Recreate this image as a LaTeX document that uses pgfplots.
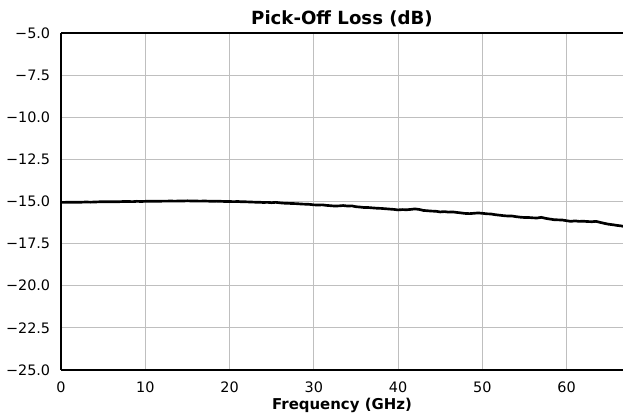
\documentclass[border=0pt]{standalone}
\usepackage{pgfplots}
\pgfplotsset{compat=1.18}
\usepackage{fontspec}
\setmainfont{DejaVu Sans}

\pgfplotstableread{
f loss
0 -15.05
0.5 -15.05
1 -15.04
1.5 -15.05
2 -15.04
2.5 -15.04
3 -15.03
3.5 -15.04
4 -15.03
4.5 -15.02
5 -15.02
5.5 -15.02
6 -15.01
6.5 -15.02
7 -15.01
7.5 -15.00
8 -15.00
8.5 -15.01
9 -14.99
9.5 -15.00
10 -14.99
10.5 -14.99
11 -14.98
11.5 -14.99
12 -14.98
12.5 -14.98
13 -14.97
13.5 -14.98
14 -14.97
14.5 -14.97
15 -14.96
15.5 -14.97
16 -14.97
16.5 -14.98
17 -14.97
17.5 -14.98
18 -14.99
18.5 -14.98
19 -14.99
19.5 -15.00
20 -15.00
20.5 -15.01
21 -15.00
21.5 -15.02
22 -15.02
22.5 -15.03
23 -15.04
23.5 -15.04
24 -15.06
24.5 -15.05
25 -15.07
25.5 -15.05
26 -15.08
26.5 -15.10
27 -15.11
27.5 -15.12
28 -15.13
28.5 -15.15
29 -15.16
29.5 -15.17
30 -15.20
30.5 -15.21
31 -15.20
31.5 -15.23
32 -15.25
32.5 -15.27
33 -15.26
33.5 -15.24
34 -15.27
34.5 -15.26
35 -15.31
35.5 -15.33
36 -15.36
36.5 -15.36
37 -15.38
37.5 -15.40
38 -15.41
38.5 -15.43
39 -15.45
39.5 -15.47
40 -15.50
40.5 -15.48
41 -15.49
41.5 -15.47
42 -15.44
42.5 -15.47
43 -15.53
43.5 -15.55
44 -15.57
44.5 -15.58
45 -15.62
45.5 -15.60
46 -15.63
46.5 -15.62
47 -15.65
47.5 -15.68
48 -15.71
48.5 -15.72
49 -15.70
49.5 -15.68
50 -15.70
50.5 -15.73
51 -15.74
51.5 -15.78
52 -15.81
52.5 -15.84
53 -15.86
53.5 -15.86
54 -15.90
54.5 -15.93
55 -15.95
55.5 -15.95
56 -15.97
56.5 -15.98
57 -15.94
57.5 -16.00
58 -16.04
58.5 -16.08
59 -16.09
59.5 -16.10
60 -16.14
60.5 -16.18
61 -16.15
61.5 -16.18
62 -16.17
62.5 -16.19
63 -16.20
63.5 -16.18
64 -16.24
64.5 -16.30
65 -16.35
65.5 -16.38
66 -16.42
66.5 -16.45
66.7 -16.47
}\lossdata

\begin{document}
\begin{tikzpicture}
\begin{axis}[
  scale only axis,
  width=421.5pt, height=252.75pt,
  xmin=0, xmax=66.7, ymin=-25, ymax=-5,
  xtick={0,10,...,60},
  ytick={-25,-22.5,-20,-17.5,-15,-12.5,-10,-7.5,-5},
  yticklabels={−25.0,−22.5,−20.0,−17.5,−15.0,−12.5,−10.0,−7.5,−5.0},
  /pgf/number format/assume math mode=true,
  tick label style={font=\fontsize{10.8}{12}\selectfont},
  xticklabel style={anchor=base, yshift=-16.5pt},
  yticklabel style={anchor=east, xshift=-4.6pt},
  major tick length=0pt,
  grid=major,
  grid style={color=black!25, line width=0.75pt},
  axis x line*=bottom, axis y line*=left,
  axis line style={line width=2.2pt, -},
  title={\textbf{Pick-Off Loss (dB)}},
  title style={font=\fontsize{13.6}{15}\selectfont, at={(axis description cs:0.5,1)}, anchor=base, yshift=0pt, inner sep=0pt},
  xlabel={\textbf{Frequency (GHz)}},
  xlabel style={font=\fontsize{11.2}{13}\selectfont, at={(axis description cs:0.5,0)}, anchor=base, yshift=-30pt, inner sep=0pt},
  clip=false,
]
\addplot[black, line width=2pt] table[x=f, y=loss] {\lossdata};
\draw[line width=2.2pt] (rel axis cs:0,1) -- (rel axis cs:1,1);
\coordinate (ll) at (rel axis cs:0,0);
\coordinate (ur) at (rel axis cs:1,1);
\end{axis}
\pgfresetboundingbox
\path ([shift={(-45.75pt,-37.5pt)}]ll) rectangle ([shift={(0pt,24.75pt)}]ur);
\end{tikzpicture}
\end{document}
